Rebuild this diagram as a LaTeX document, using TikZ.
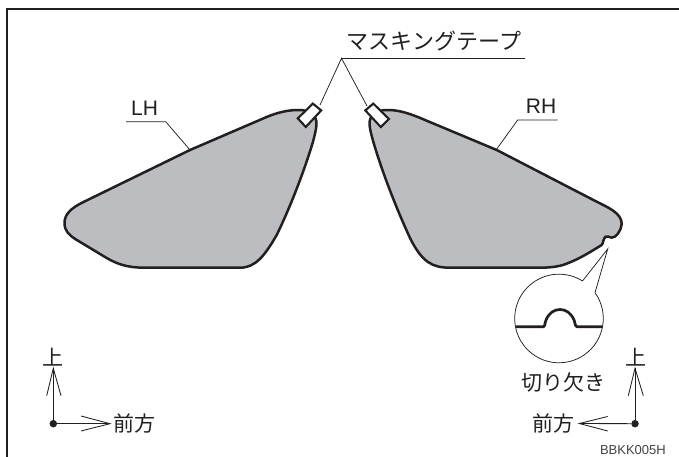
\documentclass[tikz,border=0pt]{standalone}
\usepackage{fontspec}
\setmainfont{Liberation Sans}
\newfontfamily\cjk{Noto Sans CJK JP}
\definecolor{ink}{HTML}{231F20}
\definecolor{glassgrey}{HTML}{BCBDC0}
\tikzset{
  every picture/.style={x=1pt,y=-1pt},
  frameline/.style={line width=1.7pt,draw=ink},
  glass/.style={line width=2.5pt,draw=ink,fill=glassgrey,line join=round},
  leader/.style={line width=0.75pt,draw=ink},
  tape/.style={line width=2.1pt,draw=ink,fill=white,line join=miter},
  lab/.style={font=\cjk\fontsize{21}{21}\selectfont,text=ink,inner sep=0pt},
  latin/.style={font=\fontsize{21}{21}\selectfont,text=ink,inner sep=0pt},
  code/.style={font=\fontsize{13}{13}\selectfont,text=ink!85,inner sep=0pt},
  axisline/.style={line width=0.85pt,draw=ink}
}
\begin{document}
\begin{tikzpicture}
\useasboundingbox (0,0) rectangle (679,457);
\fill[white] (0,0) rectangle (679,457);
\draw[frameline] (7,457) -- (7,9) -- (679,9);
% LH
\draw[glass] (298,110)
  .. controls (287,110) and (275,113) .. (262,119)
  -- (190,150)
  -- (83.5,202)
  .. controls (70,208.5) and (64.5,215) .. (64.5,223)
  .. controls (64.5,231) and (69,235) .. (76,239.5)
  -- (106.7,258)
  .. controls (118,264.5) and (128,267.7) .. (145,267.7)
  -- (240,267.7)
  .. controls (256,267.7) and (265,255) .. (276.7,235)
  .. controls (288,212) and (303,175) .. (313,141.7)
  .. controls (316,130) and (318,122) .. (315,117)
  .. controls (311,111) and (305,110) .. (298,110) -- cycle;
% RH
\draw[glass] (388,110)
  .. controls (399,110) and (410,113.5) .. (425,120)
  -- (496.7,150)
  -- (596.7,201.7)
  .. controls (607,207) and (622,213) .. (621.7,224)
  .. controls (621,231) and (616,237.7) .. (611.7,237.7)
  .. controls (609,237.7) and (608,235.5) .. (606,236.5)
  .. controls (603,238) and (603.5,243) .. (601.7,245)
  .. controls (590,252) and (580,259) .. (563,265)
  .. controls (553,267.7) and (545,267.7) .. (535,267.7)
  -- (450,267.7)
  .. controls (432,267.7) and (422,262) .. (410,238)
  .. controls (398,212) and (383,175) .. (373.3,141.7)
  .. controls (370,130) and (368,122) .. (371,117)
  .. controls (375,111) and (381,110) .. (388,110) -- cycle;
% Tape leader
\coordinate (apex) at (341.5,58.3);
\coordinate (tapeEnd) at (525,58.3);
\coordinate (lt) at (320,105);
\coordinate (rt) at (367,106);
\draw[leader] (lt) -- (apex) -- (rt);
\draw[leader,line width=1.1pt] (apex) -- (tapeEnd);
% Tapes
\draw[tape] (312.8,103.6) -- (321.2,110.4) -- (305.8,127) -- (297.8,118.4) -- cycle;
\draw[tape] (373.3,103.6) -- (365.3,110.4) -- (380.8,127) -- (389,119) -- cycle;
\node[lab,anchor=base,font=\cjk\fontsize{22}{22}\selectfont] (tapelabel) at (434,50) {マスキングテープ};
% LH / RH
\node[latin,anchor=base] (lh) at (144.5,116) {LH};
\coordinate (lha) at (126,121.7);
\coordinate (lhb) at (165.7,121.7);
\coordinate (lhc) at (190,150);
\draw[leader] (lha) -- (lhb) -- (lhc);
\node[latin,anchor=base] (rh) at (541,113.5) {RH};
\coordinate (rha) at (557.7,120);
\coordinate (rhb) at (517.7,120);
\coordinate (rhc) at (496,150);
\draw[leader] (rha) -- (rhb) -- (rhc);
% Detail circle
\coordinate (tip) at (607.7,249);
\draw[line width=0.75pt,draw=ink,fill=white]
  (582.7,280.7) -- (tip) -- (595,292.7)
  arc[start angle=-35.6,end angle=302.1,radius=44.3] -- cycle;
\draw[line width=2.7pt,draw=ink,line join=round]
  (516,326.7) -- (543.5,326.7)
  .. controls (545,326.7) and (545,322) .. (546,320)
  .. controls (549,313) and (554,309.5) .. (560,309.5)
  .. controls (566,309.5) and (571,313) .. (574,320)
  .. controls (575,322) and (575,326.7) .. (577,326.7)
  -- (602.5,326.7);
\node[lab,anchor=base] (notch) at (563.5,390.5) {切り欠き};
% Left axes
\node[circle,fill=ink,inner sep=0pt,minimum size=7.5pt] (o1) at (53.3,423.7) {};
\coordinate (up1) at (53.3,368.3);
\coordinate (fw1) at (110,423.7);
\draw[axisline] (o1) -- (up1);
\draw[axisline] (o1) -- (fw1);
\draw[axisline] (46.7,395.7) -- (up1) -- (61,395.7);
\draw[axisline] (81,416) -- (fw1) -- (81,431);
\node[lab,anchor=base] (up1l) at (53.3,365.5) {上};
\node[lab,anchor=base west] (fw1l) at (113,431.5) {前方};
% Right axes
\node[circle,fill=ink,inner sep=0pt,minimum size=7.5pt] (o2) at (635,423.7) {};
\coordinate (up2) at (635,368.3);
\coordinate (fw2) at (579.3,423.5);
\draw[axisline] (o2) -- (up2);
\draw[axisline] (o2) -- (fw2);
\draw[axisline] (628.3,395.7) -- (up2) -- (643.3,395.7);
\draw[axisline] (607.7,416.5) -- (fw2) -- (607.7,431);
\node[lab,anchor=base] (up2l) at (635.5,365.5) {上};
\node[lab,anchor=base east] (fw2l) at (575,431.5) {前方};
\node[code,anchor=base east] (code) at (666,454) {BBKK005H};
\end{tikzpicture}
\end{document}
